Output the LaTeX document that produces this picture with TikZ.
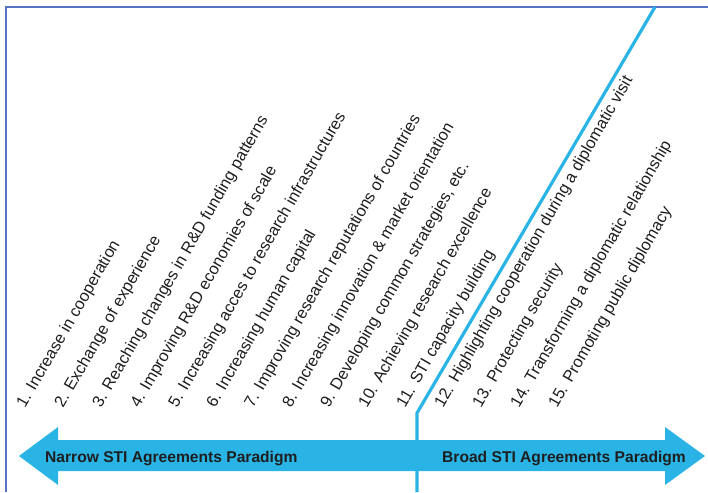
\documentclass[tikz,border=0pt]{standalone}
\usepackage{fontspec}
\setmainfont{Liberation Sans}
\definecolor{skyb}{HTML}{2AB4E6}
\definecolor{framec}{HTML}{5773C4}
\definecolor{txt}{HTML}{1E1E1E}
\begin{document}
\begin{tikzpicture}[x=1pt,y=1pt,
  lbl/.style={anchor=base west,rotate=60,inner sep=0pt,text=txt,
    font=\fontsize{16.4}{18}\selectfont},
  arrtxt/.style={anchor=base west,inner sep=0pt,text=txt,
    font=\fontsize{15.6}{18}\selectfont\bfseries}]
\useasboundingbox (0,0) rectangle (708,-492);
% frame
\draw[framec,line width=1.2pt] (6,-492) -- (6,-7) -- (708,-7);
% double arrow
\fill[skyb] (19,-456) -- (58,-427) -- (58,-440) -- (665,-440) -- (665,-427)
  -- (705,-456) -- (665,-485) -- (665,-471) -- (58,-471) -- (58,-485) -- cycle;
% divider line
\coordinate (d1) at (417,-492);
\coordinate (d2) at (417,-413);
\coordinate (d3) at (655,-7);
\draw[skyb,line width=3.2pt] (d1) -- (d2) -- (d3);
% arrow texts
\node[arrtxt] (narrow) at (45,-462) {Narrow STI Agreements Paradigm};
\node[arrtxt] (broad) at (442,-462) {Broad STI Agreements Paradigm};
% labels
\node[lbl] (l1) at (25,-409) {1. Increase in cooperation};
\node[lbl] (l2) at (63,-409) {2. Exchange of experience};
\node[lbl] (l3) at (101,-409) {3. Reaching changes in R\&D funding patterns};
\node[lbl] (l4) at (139,-409) {4. Improving R\&D economies of scale};
\node[lbl] (l5) at (177,-409) {5. Increasing acces to research infrastructures};
\node[lbl] (l6) at (215,-409) {6. Increasing human capital};
\node[lbl] (l7) at (253,-409) {7. Improving research reputations of countries};
\node[lbl] (l8) at (291,-409) {8. Increasing innovation \& market orientation};
\node[lbl] (l9) at (329,-409) {9. Developing common strategies, etc.};
\node[lbl] (l10) at (367,-409) {10. Achieving research excellence};
\node[lbl] (l11) at (405,-409) {11. STI capacity building};
\node[lbl] (l12) at (443,-409) {12. Highlighting cooperation during a diplomatic visit};
\node[lbl] (l13) at (481,-409) {13. Protecting security};
\node[lbl] (l14) at (519,-409) {14. Transforming a diplomatic relationship};
\node[lbl] (l15) at (557,-409) {15. Promoting public diplomacy};
\end{tikzpicture}
\end{document}
